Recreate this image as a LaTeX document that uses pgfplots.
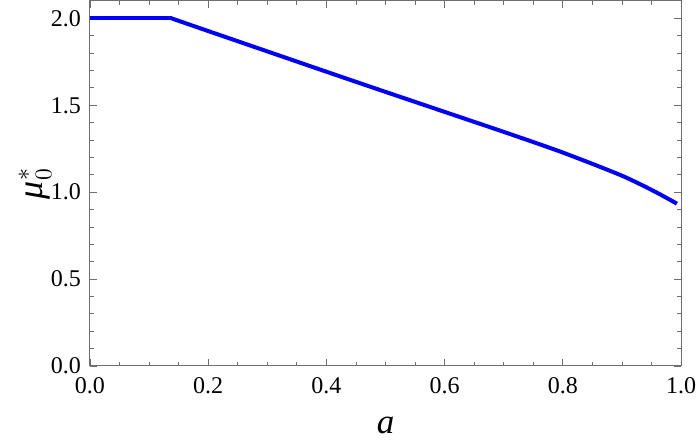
\documentclass[border=0pt]{standalone}
\usepackage{fontspec}
\setmainfont{Liberation Serif}
\usepackage{pgfplots}
\pgfplotsset{compat=1.18}
\usetikzlibrary{calc}
\definecolor{framegray}{RGB}{110,110,110}

\begin{document}
\begin{tikzpicture}
\begin{axis}[
    name=ax,
    scale only axis,
    width=295.5pt,
    height=182.5pt,
    xmin=0, xmax=1,
    ymin=0, ymax=2.1,
    xtick={0,0.2,...,1.0},
    ytick={0,0.5,...,2.0},
    minor x tick num=3,
    minor y tick num=4,
    tick align=inside,
    major tick length=3.5pt,
    minor tick length=2pt,
    axis line style={framegray, line width=0.5pt},
    every tick/.style={framegray, line width=0.4pt},
    tick label style={font=\fontsize{12}{14}\selectfont, black},
    /pgf/number format/assume math mode=true,
    /pgf/number format/.cd, fixed, fixed zerofill, precision=1,
    /pgfplots/.cd,
    xticklabel style={yshift=-2pt},
    yticklabel style={xshift=-1pt},
    xlabel={\textit{a}},
    ylabel={$\mbox{\itshape μ}_{0}^{*}$},
    every axis x label/.style={at={(axis description cs:0.5,-0.164)}, anchor=center,
        font=\fontsize{17.5}{20}\selectfont},
    every axis y label/.style={at={(axis description cs:-0.093,0.5)}, rotate=90, anchor=center,
        font=\fontsize{18}{21}\selectfont},
]
\addplot[blue, line width=2pt] coordinates {(0.000,2.000) (0.138,2.000)};
\addplot[blue, line width=2pt, smooth, tension=0.4] coordinates {
    (0.138,2.000) (0.200,1.927) (0.300,1.810) (0.400,1.693)
    (0.500,1.577) (0.600,1.462) (0.700,1.347) (0.763,1.273)
    (0.800,1.228) (0.850,1.163) (0.900,1.095) (0.932,1.044)
    (0.961,0.994) (0.993,0.934)
};
\end{axis}
\pgfresetboundingbox
\path[use as bounding box] ($(ax.south west)+(-45pt,-40.5pt)$) rectangle ($(ax.north east)+(8.5pt,0.5pt)$);
\end{tikzpicture}
\end{document}
